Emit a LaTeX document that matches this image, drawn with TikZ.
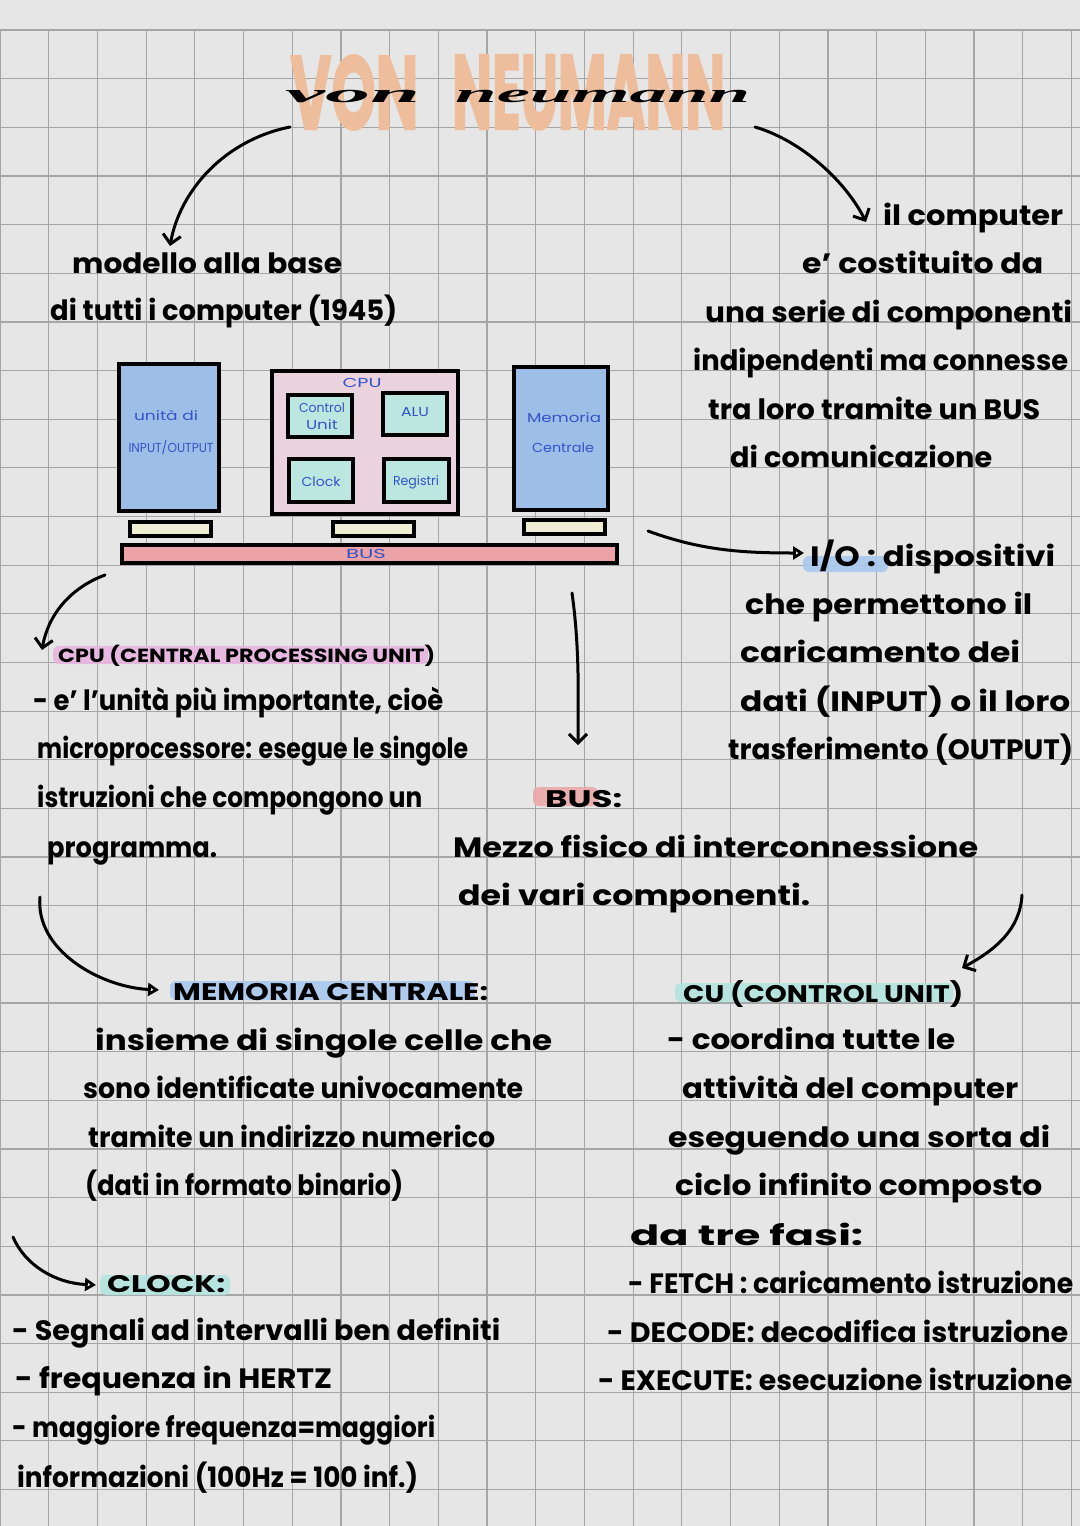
\documentclass[tikz,border=0pt]{standalone}
\usepackage{fontspec}
\usepackage{graphicx}
\setmainfont{Poppins}
\newfontfamily\handscript{Liberation Serif}
\newfontfamily\titlefont{Poppins}[FakeBold=2]
\usetikzlibrary{arrows.meta}
\definecolor{paper}{HTML}{E6E6E6}
\definecolor{gridc}{HTML}{A6A6A6}
\definecolor{peach}{HTML}{EDBD9C}
\definecolor{boxblue}{HTML}{9DBEE6}
\definecolor{cpupink}{HTML}{EBD3DD}
\definecolor{unitteal}{HTML}{BCE6E0}
\definecolor{padcream}{HTML}{EFEDD2}
\definecolor{buspink}{HTML}{EBA3A8}
\definecolor{inkblue}{HTML}{3354C8}
\definecolor{hlpink}{HTML}{E8B4E0}
\definecolor{hlblue}{HTML}{A9C8EE}
\definecolor{hlsalmon}{HTML}{EBA8A8}
\definecolor{hlteal}{HTML}{B4E4E0}
\newcommand{\wl}[6]{\node[#1] (#2) at (#3,#4) {\resizebox{#5pt}{\height}{#6}};}
\newcommand{\bl}[5]{\node[lab] (#1) at (#2,#3) {\resizebox{#4pt}{\height}{#5}};}
\begin{document}
\begin{tikzpicture}[x=1pt,y=-1pt,
  gridline/.style={draw=gridc, line width=1.2pt},
  hand/.style={anchor=base west, inner sep=0pt, text=black, font=\fontsize{28}{30}\selectfont\bfseries},
  capsA/.style={hand, font=\fontsize{19}{21}\selectfont\bfseries},
  capsB/.style={hand, font=\fontsize{24}{26}\selectfont\bfseries},
  lab/.style={inner sep=0pt, text=inkblue, font=\fontsize{13}{14}\selectfont},
  boxline/.style={draw=black, line width=4pt},
  bluebox/.style={boxline, fill=boxblue},
  cpubox/.style={boxline, fill=cpupink},
  unitbox/.style={boxline, fill=unitteal},
  padbox/.style={boxline, fill=padcream},
  busbox/.style={boxline, fill=buspink},
  hl/.style={rounded corners=6pt, opacity=0.9},
  arr/.style={draw=black, line width=3pt, line cap=round},
  vhead/.style={arr, -{Straight Barb[length=9pt,width=18pt]}},
  thead/.style={arr, -{Triangle[open,length=11pt,width=13pt]}}
]
\useasboundingbox (0,0) rectangle (1080,1526);
\fill[paper] (0,0) rectangle (1080,1526);
\foreach \i in {0,...,22} {\draw[gridline] ({\i*48.7},30) -- ({\i*48.7},1526);}
\foreach \j in {0,...,30} {\draw[gridline] (0,{30+\j*48.65}) -- (1080,{30+\j*48.65});}

% title
\node[anchor=south west, inner sep=0pt, text=peach] (tvon) at (290,130) {\resizebox{128pt}{74pt}{\titlefont\bfseries VON}};
\node[anchor=south west, inner sep=0pt, text=peach] (tneu) at (452,130) {\resizebox{273pt}{74pt}{\titlefont\bfseries NEUMANN}};
\node[anchor=base west, inner sep=0pt, text=black] (svon) at (285,102) {\resizebox{135pt}{\height}{\fontsize{26}{26}\handscript\itshape\bfseries von}};
\node[anchor=base west, inner sep=0pt, text=black] (sneu) at (455,102) {\resizebox{295pt}{\height}{\fontsize{26}{26}\handscript\itshape\bfseries neumann}};

% highlights
\fill[hlpink, hl] (53,646) rectangle (428,664);
\fill[hlblue, hl] (803,556) rectangle (888,572);
\fill[hlsalmon, hl] (533,787) rectangle (598,806);
\fill[hlblue, hl] (170,981) rectangle (475,1000);
\fill[hlteal, hl] (675,983) rectangle (953,1002);
\fill[hlteal, hl] (100,1275) rectangle (230,1295);

% diagram
\node[bluebox, minimum width=100.5pt, minimum height=147pt] (io) at (168.75,437.5) {};
\node[cpubox, minimum width=186pt, minimum height=143pt] (cpu) at (365,442.5) {};
\node[unitbox, minimum width=64pt, minimum height=42pt] (cu) at (320,416) {};
\node[unitbox, minimum width=63.5pt, minimum height=42pt] (alu) at (414.75,414) {};
\node[unitbox, minimum width=64pt, minimum height=43pt] (clk) at (321,480.5) {};
\node[unitbox, minimum width=64.5pt, minimum height=43pt] (reg) at (416.25,480.5) {};
\node[bluebox, minimum width=94pt, minimum height=143pt] (mem) at (561,438.5) {};
\node[padbox, minimum width=81pt, minimum height=14pt] (pio) at (170,529) {};
\node[padbox, minimum width=81pt, minimum height=14pt] (pcpu) at (373.5,529) {};
\node[padbox, minimum width=81pt, minimum height=14pt] (pmem) at (564.5,527) {};
\node[busbox, minimum width=495pt, minimum height=18pt] (bus) at (369.5,554) {};

\bl{lio1}{166}{415}{64}{unità di}
\bl{lio2}{171}{447}{85}{INPUT/OUTPUT}
\bl{lcpu}{362}{383}{39}{CPU}
\bl{lcu1}{322}{408}{46}{Control}
\bl{lcu2}{322}{425}{32}{Unit}
\bl{lalu}{415}{412}{28}{ALU}
\bl{lclk}{321}{482}{39}{Clock}
\bl{lreg}{416}{482}{46}{Registri}
\bl{lmem1}{564}{418}{74}{Memoria}
\bl{lmem2}{563}{448}{62}{Centrale}
\bl{lbus}{366}{554}{40}{BUS}

% texts
\wl{hand}{t1}{72}{273}{270}{modello alla base}
\wl{hand}{t2}{50}{320}{347}{di tutti i computer (1945)}
\wl{hand}{r1}{883}{225}{180}{il computer}
\wl{hand}{r2}{802}{273}{241}{e' costituito da}
\wl{hand}{r3}{705}{322}{367}{una serie di componenti}
\wl{hand}{r4}{693}{370}{375}{indipendenti ma connesse}
\wl{hand}{r5}{708}{419}{332}{tra loro tramite un BUS}
\wl{hand}{r6}{730}{467}{262}{di comunicazione}
\wl{hand}{i1}{810}{566}{245}{I/O : dispositivi}
\wl{hand}{i2}{745}{614}{287}{che permettono il}
\wl{hand}{i3}{740}{662}{280}{caricamento dei}
\wl{hand}{i4}{740}{711}{330}{dati (INPUT) o il loro}
\wl{hand}{i5}{728}{759}{345}{trasferimento (OUTPUT)}
\wl{capsA}{c0}{58}{662}{377}{CPU (CENTRAL PROCESSING UNIT)}
\wl{hand}{c1}{33}{710}{410}{- e' l'unità più importante, cioè}
\wl{hand}{c2}{37}{758}{431}{microprocessore: esegue le singole}
\wl{hand}{c3}{37}{807}{385}{istruzioni che compongono un}
\wl{hand}{c4}{47}{857}{170}{programma.}
\wl{capsB}{b0}{545}{807}{77}{BUS:}
\wl{hand}{b1}{453}{857}{525}{Mezzo fisico di interconnessione}
\wl{hand}{b2}{458}{905}{352}{dei vari componenti.}
\wl{capsB}{m0}{173}{1000}{315}{MEMORIA CENTRALE:}
\wl{hand}{m1}{95}{1050}{457}{insieme di singole celle che}
\wl{hand}{m2}{83}{1098}{440}{sono identificate univocamente}
\wl{hand}{m3}{88}{1147}{407}{tramite un indirizzo numerico}
\wl{hand}{m4}{85}{1195}{318}{(dati in formato binario)}
\wl{capsB}{u0}{683}{1002}{280}{CU (CONTROL UNIT)}
\wl{hand}{u1}{667}{1049}{288}{- coordina tutte le}
\wl{hand}{u2}{682}{1098}{336}{attività del computer}
\wl{hand}{u3}{668}{1147}{382}{eseguendo una sorta di}
\wl{hand}{u4}{675}{1195}{367}{ciclo infinito composto}
\wl{hand}{u5}{630}{1245}{233}{da tre fasi:}
\wl{hand}{u6}{628}{1293}{445}{- FETCH : caricamento istruzione}
\wl{hand}{u7}{607}{1342}{461}{- DECODE: decodifica istruzione}
\wl{hand}{u8}{598}{1390}{474}{- EXECUTE: esecuzione istruzione}
\wl{capsB}{k0}{107}{1292}{118}{CLOCK:}
\wl{hand}{k1}{12}{1340}{488}{- Segnali ad intervalli ben definiti}
\wl{hand}{k2}{15}{1388}{317}{- frequenza in HERTZ}
\wl{hand}{k3}{12}{1437}{423}{- maggiore frequenza=maggiori}
\wl{hand}{k4}{17}{1487}{401}{informazioni (100Hz = 100 inf.)}

% arrows
\coordinate (a1s) at (290,127); \coordinate (a1e) at (170,246);
\coordinate (a2s) at (755,127); \coordinate (a2e) at (866,222);
\coordinate (a3s) at (105,575); \coordinate (a3e) at (42,650);
\coordinate (a4s) at (648,531); \coordinate (a4e) at (804,553);
\coordinate (a5s) at (572,593); \coordinate (a5e) at (578,745);
\coordinate (a6s) at (40,897); \coordinate (a6e) at (159,990);
\coordinate (a7s) at (1022,895); \coordinate (a7e) at (962,968);
\coordinate (a8s) at (13,1237); \coordinate (a8e) at (96,1285);
\draw[vhead] (a1s) .. controls (225,140) and (180,190) .. (a1e);
\draw[vhead] (a2s) .. controls (800,140) and (845,180) .. (a2e);
\draw[vhead] (a3s) .. controls (70,588) and (48,615) .. (a3e);
\draw[thead] (a4s) .. controls (700,550) and (740,553) .. (a4e);
\draw[vhead] (a5s) .. controls (580,650) and (578,700) .. (a5e);
\draw[thead] (a6s) .. controls (35,950) and (100,987) .. (a6e);
\draw[vhead] (a7s) .. controls (1020,930) and (995,950) .. (a7e);
\draw[thead] (a8s) .. controls (25,1265) and (55,1283) .. (a8e);
\end{tikzpicture}
\end{document}
